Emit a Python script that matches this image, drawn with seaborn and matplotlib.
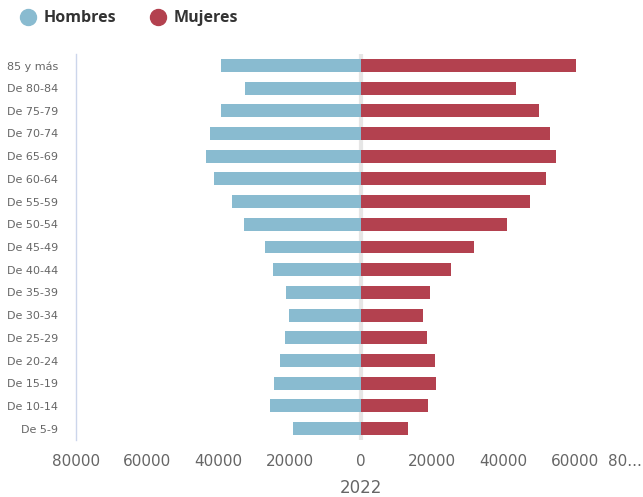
import pandas as pd
import matplotlib
matplotlib.use("Agg")
import matplotlib.pyplot as plt
import matplotlib.transforms as mtransforms
import seaborn as sns
from matplotlib.lines import Line2D

# Datos de la pirámide (2022)
grupos = ["85 y más", "De 80-84", "De 75-79", "De 70-74", "De 65-69", "De 60-64",
          "De 55-59", "De 50-54", "De 45-49", "De 40-44", "De 35-39", "De 30-34",
          "De 25-29", "De 20-24", "De 15-19", "De 10-14", "De 5-9"]
hombres = [39300, 32500, 39300, 42400, 43500, 41200, 36200, 32800, 26900,
           24700, 21000, 20200, 21300, 22700, 24400, 25500, 19100]
mujeres = [60300, 43500, 49900, 53000, 54700, 51900, 47400, 41000, 31700,
           25200, 19400, 17400, 18500, 20800, 21000, 18800, 13200]
ticks = [-80000, -60000, -40000, -20000, 0, 20000, 40000, 60000, 80000]
tick_labels = ["80000", "60000", "40000", "20000", "0", "20000", "40000", "60000", "80..."]

azul = "#89bbd0"
rojo = "#b3414f"

df = pd.DataFrame({
    "grupo": grupos * 2,
    "sexo": ["Hombres"] * len(grupos) + ["Mujeres"] * len(grupos),
    "valor": [-v for v in hombres] + mujeres,
})

sns.set_style("white")
fig = plt.figure(figsize=(6.43, 4.97), dpi=100)
ax = fig.add_axes([76 / 643, 57 / 497, 570 / 643, 386 / 497])

# linea del cero
ax.axvline(0, color="#e6e6e6", lw=3, zorder=0)

sns.barplot(data=df, x="valor", y="grupo", hue="sexo", order=grupos,
            palette={"Hombres": azul, "Mujeres": rojo}, dodge=False,
            width=0.57, saturation=1, linewidth=0, legend=False, ax=ax, zorder=2)

ax.set_xlim(-80000, 80000)
ax.set_ylim(len(grupos) - 0.5, -0.5)
ax.set_xticks(ticks)
ax.set_xticklabels(tick_labels, fontsize=11, color="#666666", family="DejaVu Sans")
ax.tick_params(axis="x", length=0, pad=10)
ax.tick_params(axis="y", length=0, pad=13, labelsize=8, labelcolor="#666666")
ax.set_ylabel("")
ax.set_xlabel("2022", fontsize=12, color="#666666", labelpad=7)

# la ultima etiqueta queda recortada en el borde
ultima = ax.get_xticklabels()[-1]
ultima.set_horizontalalignment("right")
ultima.set_transform(ultima.get_transform() +
                     mtransforms.ScaledTranslation(-4 / 100, 0, fig.dpi_scale_trans))

for s in ["top", "right", "bottom"]:
    ax.spines[s].set_visible(False)
ax.spines["left"].set_color("#ccd6eb")
ax.spines["left"].set_linewidth(1)

# leyenda
handles = [Line2D([0], [0], marker="o", ls="", markersize=11.5, color=azul),
           Line2D([0], [0], marker="o", ls="", markersize=11.5, color=rojo)]
fig.legend(handles, ["Hombres", "Mujeres"], loc="upper left",
           bbox_to_anchor=(-0.004, 1.008), ncol=2, frameon=False,
           prop={"family": "Open Sans", "weight": "bold", "size": 11.5},
           labelcolor="#333333", handletextpad=0.0, columnspacing=1.6)

fig.savefig("out.png", dpi=100)
